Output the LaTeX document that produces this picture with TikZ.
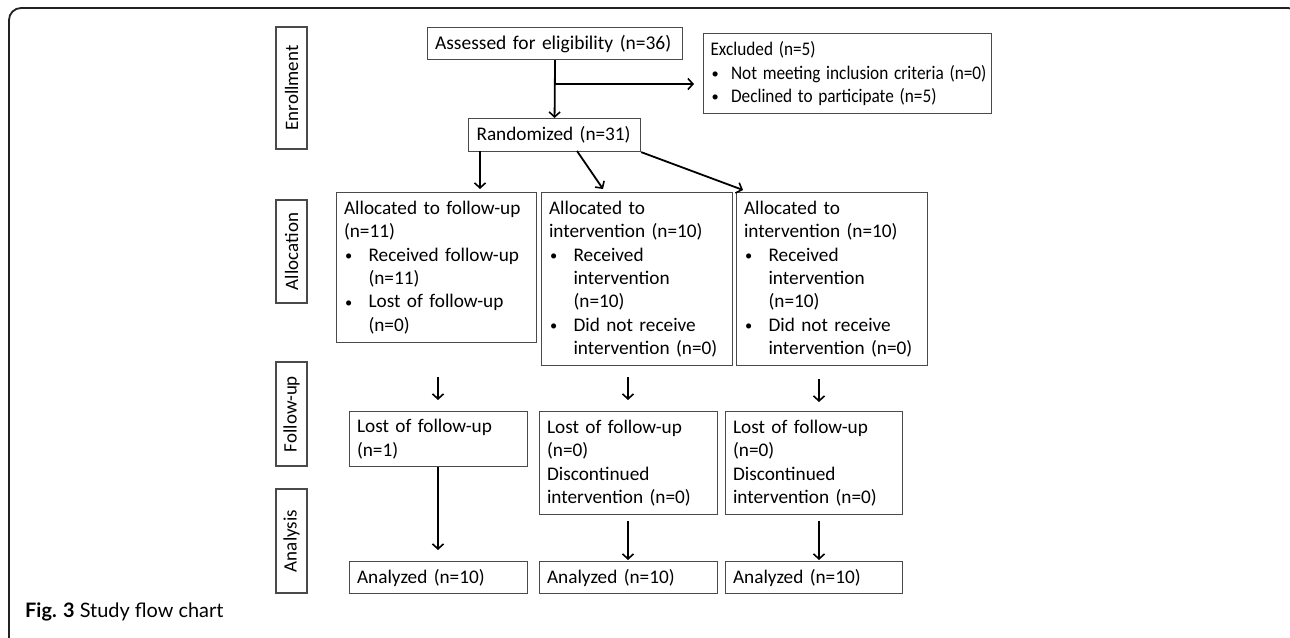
\documentclass[tikz,border=0pt]{standalone}
\usepackage{fontspec}
\setmainfont{Carlito}
\newfontfamily\capfont{Lato}
\usetikzlibrary{arrows.meta}
\definecolor{boxgray}{HTML}{4A4A4A}
\definecolor{framegray}{HTML}{222222}
\newcommand\bul[1]{\makebox[#1][l]{\hspace{1pt}\raisebox{0.5pt}{\scalebox{0.75}{•}}}}
\newlength\tmpw
% font size that gives text #3 the width #2 (pt)
\newcommand\fitsize[3]{\settowidth\tmpw{\fontsize{10pt}{12pt}\selectfont #3}%
  \edef#1{\the\dimexpr\numexpr (655360*#2)*65536/\tmpw\relax sp\relax}}
\makeatletter
% horizontal factor that gives text #3 (in font #4) the width #2 (pt)
\newcommand\fitscale[4]{\settowidth\tmpw{#4#3}%
  \edef#1{\strip@pt\dimexpr\numexpr (65536*#2)*65536/\tmpw\relax sp\relax}}
\makeatother
\begin{document}
\fitsize\szM{152}{Randomized (n=31)}%
\fitsize\szA{230}{Assessed for eligibility (n=36)}%
\fitsize\szL{77}{Allocation}%
\fitsize\szC{198}{\capfont\bfseries Fig. 3 \mdseries Study flow chart}%
\fitscale\exs{248}{Not meeting inclusion criteria (n=0)}{\fontsize{\szM}{23.3pt}\selectfont}%
\begin{tikzpicture}[x=1pt,y=-1pt,
  bx/.style={draw=boxgray, line width=1.1pt, rectangle, anchor=north west,
    inner xsep=7.5pt, inner ysep=0pt, align=left,
    font=\fontsize{\szM}{23.3pt}\selectfont},
  lab/.style={draw=boxgray, line width=1.1pt, rectangle, rotate=90,
    inner sep=0pt, minimum height=31pt, font=\fontsize{\szL}{23pt}\selectfont},
  arr/.style={-{Straight Barb[length=5pt,width=11pt,line width=1.6pt]}, line width=1.8pt, black}
]
\useasboundingbox (0,0) rectangle (1290,637);
% outer frame
\draw[framegray, line width=1.8pt, rounded corners=12pt] (9,650) -- (9,8) -- (1300,8) -- (1300,650);
% stage labels
\node[lab, minimum width=122pt] (lenr) at (291.5,88) {Enrollment};
\node[lab, minimum width=103pt] (lall) at (291.5,251.5) {Allocation};
\node[lab, minimum width=104pt] (lfol) at (291.5,414) {Follow-up};
\node[lab, minimum width=104pt] (lana) at (291.5,541) {Analysis};
% enrollment
\node[bx, text width=240pt, minimum height=32pt, font=\fontsize{\szA}{23.3pt}\selectfont] (ass) at (427,27) {Assessed for eligibility (n=36)};
\node[bx, text width=274pt, inner xsep=7pt, minimum height=80pt] (exc) at (703,33)
  {\scalebox{\exs}[1]{Excluded (n=5)}\\\bul{20.5pt}\scalebox{\exs}[1]{Not meeting inclusion criteria (n=0)}\\\bul{20.5pt}\scalebox{\exs}[1]{Declined to participate (n=5)}};
\node[bx, text width=156pt, minimum height=33pt, inner xsep=8pt] (rand) at (468,118) {Randomized (n=31)};
% allocation
\node[bx, text width=185pt, minimum height=150pt] (a1) at (336,192)
  {Allocated to follow-up\\(n=11)\\\bul{24.5pt}Received follow-up\\\hspace*{24.5pt}(n=11)\\\bul{24.5pt}Lost of follow-up\\\hspace*{24.5pt}(n=0)};
\node[bx, text width=176pt, minimum height=173pt] (a2) at (541,192)
  {Allocated to\\intervention (n=10)\\\bul{24.5pt}Received\\\hspace*{24.5pt}intervention\\\hspace*{24.5pt}(n=10)\\\bul{24.5pt}Did not receive\\\hspace*{24.5pt}intervention (n=0)};
\node[bx, text width=176pt, minimum height=173pt] (a3) at (736,192)
  {Allocated to\\intervention (n=10)\\\bul{24.5pt}Received\\\hspace*{24.5pt}intervention\\\hspace*{24.5pt}(n=10)\\\bul{24.5pt}Did not receive\\\hspace*{24.5pt}intervention (n=0)};
% follow-up
\node[bx, text width=163pt, minimum height=55pt] (f1) at (349,411) {Lost of follow-up\\(n=1)};
\node[bx, text width=163pt, minimum height=103pt] (f2) at (539,411) {Lost of follow-up\\(n=0)\\Discontinued\\intervention (n=0)};
\node[bx, text width=162pt, minimum height=103pt] (f3) at (725,411) {Lost of follow-up\\(n=0)\\Discontinued\\intervention (n=0)};
% analysis
\node[bx, text width=163pt, minimum height=32pt] (n1) at (349,561) {Analyzed (n=10)};
\node[bx, text width=163pt, minimum height=32pt] (n2) at (539,561) {Analyzed (n=10)};
\node[bx, text width=162pt, minimum height=32pt] (n3) at (725,561) {Analyzed (n=10)};
% caption
\node[anchor=base west, inner sep=0pt, font=\capfont\fontsize{\szC}{22pt}\selectfont] (cap) at (25,617) {\textbf{Fig. 3} Study flow chart};
% connector coordinates
\coordinate (br) at (554.5,84);
\coordinate (exTip) at (694,84);
\coordinate (r1s) at (480,151);
\coordinate (r1t) at (480,189);
\coordinate (r2s) at (577,151);
\coordinate (r2t) at (603,189);
\coordinate (r3t) at (743,190);
\coordinate (u1s) at (438,377); \coordinate (u1t) at (438,400);
\coordinate (u2s) at (628,377); \coordinate (u2t) at (628,400);
\coordinate (u3s) at (819,379); \coordinate (u3t) at (819,402);
\coordinate (v1t) at (438,550);
\coordinate (v2s) at (628,521); \coordinate (v2t) at (628,560);
\coordinate (v3s) at (819,521); \coordinate (v3t) at (819,560);
% connectors
\draw[arr] (ass.south) -- (rand.north);
\draw[arr] (br) -- (exTip);
\draw[arr] (r1s) -- (r1t);
\draw[arr] (r2s) -- (r2t);
\draw[arr] (rand.south east) -- (r3t);
\draw[arr] (u1s) -- (u1t);
\draw[arr] (u2s) -- (u2t);
\draw[arr] (u3s) -- (u3t);
\draw[arr] (f1.south -| v1t) -- (v1t);
\draw[arr] (v2s) -- (v2t);
\draw[arr] (v3s) -- (v3t);
\end{tikzpicture}
\end{document}
